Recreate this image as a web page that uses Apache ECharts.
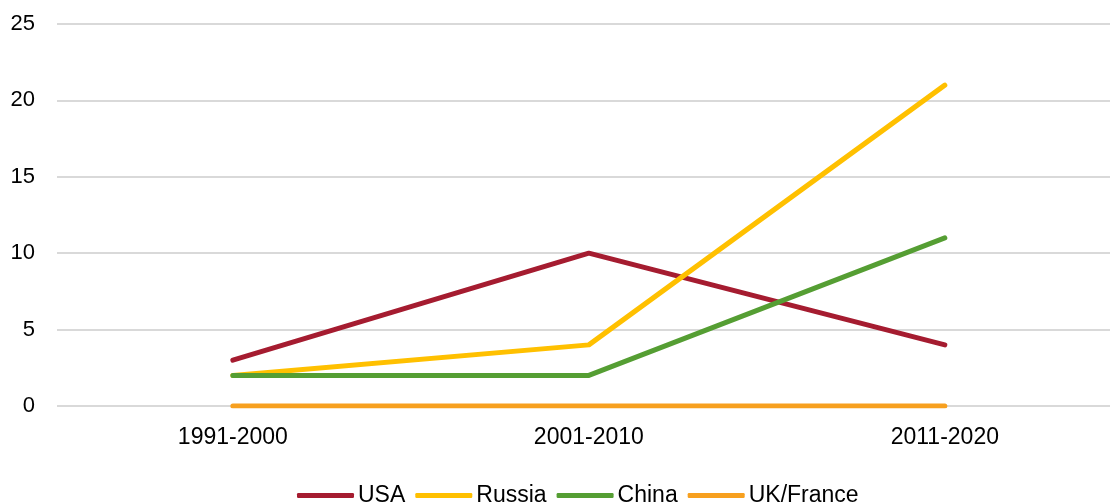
<!DOCTYPE html>
<html><head><meta charset="utf-8">
<script src="https://cdn.jsdelivr.net/npm/echarts@6/dist/echarts.min.js"></script>
<style>html,body{margin:0;padding:0;background:#fff}#c{width:1110px;height:502px}</style>
</head><body><div id="c"></div>
<script>
const categories = ['1991-2000', '2001-2010', '2011-2020'];
const usa = [3, 10, 4];
const russia = [2, 4, 21];
const china = [2, 2, 11];
const ukFrance = [0, 0, 0];
const yTicks = [0, 5, 10, 15, 20, 25];

const colors = {USA: '#A51C30', Russia: '#FFC000', China: '#559E33', 'UK/France': '#F7A01F'};
const seriesData = [['USA', usa], ['Russia', russia], ['China', china], ['UK/France', ukFrance]];
const catIdx = categories.map((c, i) => i);

const chart = echarts.init(document.getElementById('c'));
chart.setOption({
  animation: false,
  textStyle: {fontFamily: 'Liberation Sans, Arial, sans-serif'},
  grid: {left: 57, top: 24, right: 0, height: 382, containLabel: false},
  legend: {
    left: 292, top: 479,
    itemWidth: 57, itemHeight: 5, itemGap: 10,
    icon: 'roundRect',
    textStyle: {fontSize: 23, color: '#000', padding: [0, 0, 0, -1]},
    data: seriesData.map(s => s[0])
  },
  xAxis: {
    type: 'value', min: -0.494, max: 2.464,
    axisLine: {show: false}, axisTick: {show: false},
    splitLine: {show: false},
    axisLabel: {fontSize: 23, color: '#000', margin: 20,
      customValues: catIdx,
      formatter: v => categories[Math.round(v)] ?? ''}
  },
  yAxis: {
    type: 'value', min: 0, max: 25, interval: 5,
    axisLine: {show: false}, axisTick: {show: false},
    axisLabel: {fontSize: 22, color: '#000', margin: 22,
      formatter: v => yTicks.includes(v) ? String(v) : ''},
    splitLine: {lineStyle: {color: '#d9d9d9', width: 2}}
  },
  series: seriesData.map(([name, d]) => ({
    name, type: 'line', data: d.map((v, i) => [catIdx[i], v]), symbol: 'none',
    lineStyle: {width: 5, color: colors[name], cap: 'round', join: 'round'},
    itemStyle: {color: colors[name]}
  }))
});
</script></body></html>
